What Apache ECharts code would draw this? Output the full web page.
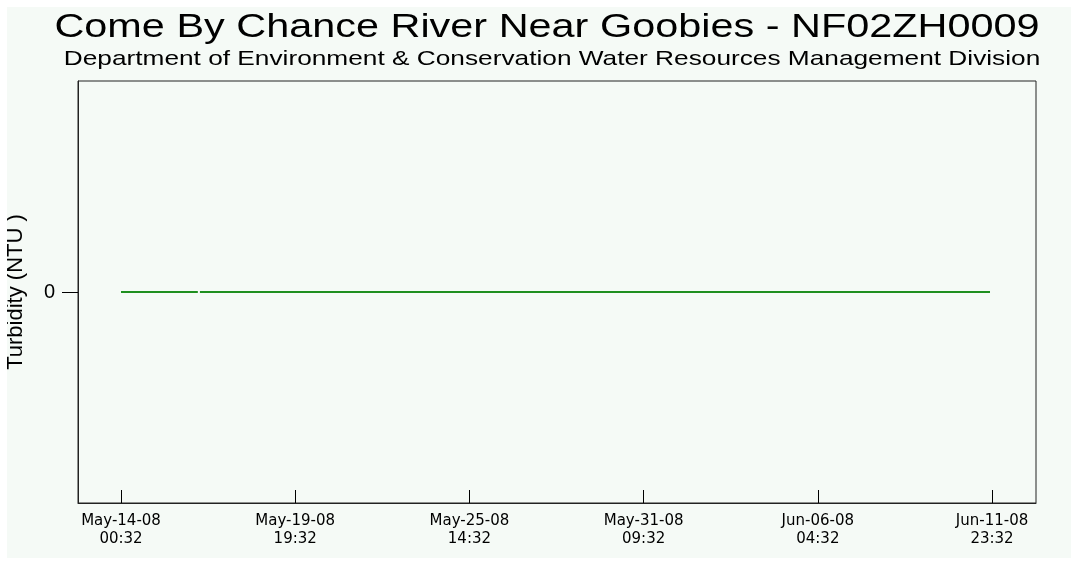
<!DOCTYPE html>
<html>
<head>
<meta charset="utf-8">
<script src="https://cdn.jsdelivr.net/npm/echarts@6/dist/echarts.min.js"></script>
<style>
  html,body{margin:0;padding:0;background:#fff;}
  #chart{position:absolute;left:7px;top:7px;width:1064px;height:551px;}
</style>
</head>
<body>
<div id="chart"></div>
<script>
const titleText = 'Come By Chance River Near Goobies - NF02ZH0009';
const subText = 'Department of Environment & Conservation Water Resources Management Division';
// tick positions on the time axis (UTC)
const tickTimes = ['2008-05-14T00:32Z','2008-05-19T19:32Z','2008-05-25T14:32Z','2008-05-31T09:32Z','2008-06-06T04:32Z','2008-06-11T23:32Z'];
// visible axis range
const axisStart = '2008-05-12T14:13Z';
const axisEnd = '2008-06-13T10:38Z';
// turbidity record (NTU) - flat at 0 with a short gap
const obsTimes = ['2008-05-14T00:32Z','2008-05-16T13:50Z','2008-05-16T14:40Z','2008-05-16T15:30Z','2008-06-11T21:56Z'];
const obsValues = [0, 0, null, 0, 0];
const yTicks = [0];

const MON=['Jan','Feb','Mar','Apr','May','Jun','Jul','Aug','Sep','Oct','Nov','Dec'];
const p2=n=>String(n).padStart(2,'0');
function fmt(v){ const d=new Date(v); return MON[d.getUTCMonth()]+'-'+p2(d.getUTCDate())+'-'+p2(d.getUTCFullYear()%100)+'\n'+p2(d.getUTCHours())+':'+p2(d.getUTCMinutes()); }
const ms = s=>Date.parse(s);

const FONT = '"Liberation Sans", Arial, sans-serif';
const c = echarts.init(document.getElementById('chart'));
c.setOption({
  backgroundColor:'#f5faf6',
  animation:false,
  // title drawn as scaled text, the original lettering is stretched sideways
  graphic:[
    {type:'text', x:540, y:4, scaleX:1.255, style:{text:titleText, fontFamily:FONT, fontSize:33, fill:'#000', align:'center', verticalAlign:'top'}},
    {type:'text', x:545, y:42, scaleX:1.25, style:{text:subText, fontFamily:FONT, fontSize:21, fill:'#000', align:'center', verticalAlign:'top'}}
  ],
  grid:{left:71,right:35,top:74,bottom:55,outerBoundsMode:'none',show:true,borderColor:'#222',borderWidth:1,backgroundColor:'transparent'},
  xAxis:{
    type:'value', min:ms(axisStart), max:ms(axisEnd),
    splitLine:{show:false},
    axisLine:{onZero:false,lineStyle:{color:'#222',width:1}},
    axisTick:{inside:true,length:13,lineStyle:{color:'#000'},customValues:tickTimes.map(ms)},
    axisLabel:{customValues:tickTimes.map(ms),formatter:fmt,color:'#000',fontFamily:'"DejaVu Sans", sans-serif',fontSize:15,lineHeight:18,margin:9}
  },
  yAxis:{
    type:'value', min:-1, max:1,
    name:'Turbidity (NTU )', nameLocation:'middle', nameGap:51, nameRotate:90,
    nameTextStyle:{fontFamily:FONT,fontSize:22,color:'#000'},
    splitLine:{show:false},
    axisLine:{show:true,onZero:false,lineStyle:{color:'#222',width:1}},
    axisTick:{show:true,length:16,lineStyle:{color:'#000'},customValues:yTicks},
    axisLabel:{customValues:yTicks,color:'#000',fontFamily:FONT,fontSize:20,margin:23}
  },
  series:[{
    type:'line', symbol:'none', connectNulls:false,
    lineStyle:{color:'#1f8f1f',width:2},
    data:obsTimes.map((t,i)=>[ms(t),obsValues[i]])
  }]
});
</script>
</body>
</html>
